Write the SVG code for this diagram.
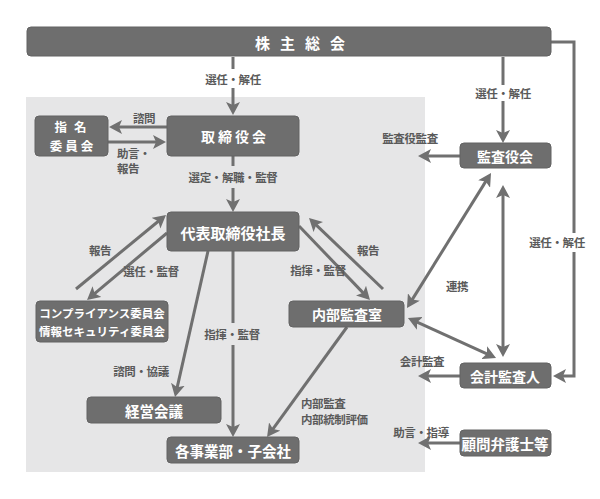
<svg xmlns="http://www.w3.org/2000/svg" width="600" height="499" viewBox="0 0 600 499">
<style>
.box{fill:#6e6e6e;stroke:#626262;stroke-width:1}
.bt{fill:#fff;font-family:"Noto Sans CJK JP","Noto Sans",sans-serif;font-weight:bold;font-size:14px;text-anchor:middle;dominant-baseline:central}
.lbl{fill:#5a5a5a;font-family:"Noto Sans CJK JP","Noto Sans",sans-serif;font-weight:bold;font-size:11.5px;text-anchor:middle;dominant-baseline:central;letter-spacing:-0.4px}
.ln{fill:none;stroke:#707070;stroke-width:3}
.ar{marker-end:url(#ah)}
.dbl{marker-start:url(#ah);marker-end:url(#ah)}
</style>
<defs>
<marker id="ah" markerUnits="userSpaceOnUse" markerWidth="14" markerHeight="14" refX="9" refY="7" orient="auto-start-reverse">
<path d="M0,0 L13,7 L0,14 L3,7 Z" fill="#707070"/>
</marker>
</defs>
<rect x="0" y="0" width="600" height="499" fill="#fff"/>
<rect id="panel" x="26" y="97" width="399" height="375" fill="#e6e6e7"/>

<g id="connectors">
<path class="ln" d="M233,57 V69"/>
<path class="ln ar" d="M233,88 V111"/>
<text class="lbl" x="233" y="79">選任・解任</text>
<path class="ln ar" d="M167,127 H113"/>
<text class="lbl" x="144" y="118">諮問</text>
<path class="ln ar" d="M108,142 H162"/>
<text class="lbl" x="117" y="153" style="text-anchor:start">助言・</text>
<text class="lbl" x="117" y="168" style="text-anchor:start">報告</text>
<path class="ln" d="M233,156 V166"/>
<path class="ln ar" d="M233,188 V208"/>
<text class="lbl" x="233" y="177">選定・解職・監督</text>
<path class="ln ar" d="M76,289 L162.9,217.5"/>
<text class="lbl" x="100" y="250">報告</text>
<path class="ln ar" d="M167,233 L90.1,297.4"/>
<text class="lbl" x="151" y="271">選任・監督</text>
<path class="ln ar" d="M208,251 L175.9,393.1"/>
<text class="lbl" x="141" y="371">諮問・協議</text>
<path class="ln" d="M233,251 V323"/>
<path class="ln ar" d="M233,345 V433"/>
<text class="lbl" x="232" y="334">指揮・監督</text>
<path class="ln ar" d="M299,226 L367.2,297.1"/>
<text class="lbl" x="318" y="270">指揮・監督</text>
<path class="ln ar" d="M383,289 L311.9,220.8"/>
<text class="lbl" x="368" y="250">報告</text>
<path class="ln ar" d="M347,327 L269.4,433.8"/>
<text class="lbl" x="301" y="403" style="text-anchor:start">内部監査</text>
<text class="lbl" x="301" y="419" style="text-anchor:start">内部統制評価</text>
<path class="ln" d="M503,57 V85"/>
<path class="ln ar" d="M503,101 V139"/>
<text class="lbl" x="503" y="93">選任・解任</text>
<path class="ln ar" d="M460,156 H422"/>
<text class="lbl" x="410" y="138">監査役監査</text>
<path class="ln" d="M551,42 H574 V233"/>
<path class="ln ar" d="M574,252 V376 H557"/>
<text class="lbl" x="557" y="242">選任・解任</text>
<path class="ln dbl" d="M488.9,176.4 L409.1,304.6"/>
<text class="lbl" x="457" y="286">連携</text>
<path class="ln dbl" d="M503,189 V353"/>
<path class="ln dbl" d="M411.6,319.7 L492.4,356.3"/>
<path class="ln ar" d="M460,376 H422"/>
<text class="lbl" x="422" y="361">会計監査</text>
<path class="ln ar" d="M460,443 H422"/>
<text class="lbl" x="421" y="432">助言・指導</text>
</g>

<g id="shareholders">
<rect class="box" x="27" y="27" width="524" height="29" rx="4"/>
<text class="bt" x="255" y="42" style="text-anchor:start;font-size:15px;letter-spacing:10px">株主総会</text>
</g>
<g id="nomination">
<rect class="box" x="35" y="116" width="73" height="40" rx="4"/>
<text class="bt" x="74" y="126.5" style="font-size:12.5px;letter-spacing:7px">指名</text>
<text class="bt" x="73" y="145.5" style="font-size:12.5px;letter-spacing:3px">委員会</text>
</g>
<g id="board">
<rect class="box" x="167" y="116" width="132" height="40" rx="4"/>
<text class="bt" x="235" y="136" style="letter-spacing:3px">取締役会</text>
</g>
<g id="president">
<rect class="box" x="167" y="212" width="132" height="39" rx="4"/>
<text class="bt" x="233" y="232" style="font-size:15px">代表取締役社長</text>
</g>
<g id="compliance">
<rect class="box" x="36" y="301" width="132" height="41" rx="4"/>
<text class="bt" x="102" y="313" style="font-size:11.5px">コンプライアンス委員会</text>
<text class="bt" x="102" y="331" style="font-size:11.5px">情報セキュリティ委員会</text>
</g>
<g id="management">
<rect class="box" x="87" y="397" width="134" height="26" rx="4"/>
<text class="bt" x="154" y="410" style="font-size:14.5px">経営会議</text>
</g>
<g id="divisions">
<rect class="box" x="167" y="437" width="132" height="26" rx="4"/>
<text class="bt" x="233" y="450" style="font-size:14.5px">各事業部・子会社</text>
</g>
<g id="internal-audit">
<rect class="box" x="289" y="301" width="115" height="26" rx="4"/>
<text class="bt" x="347" y="314">内部監査室</text>
</g>
<g id="auditors">
<rect class="box" x="460" y="143" width="91" height="25" rx="4"/>
<text class="bt" x="505" y="156">監査役会</text>
</g>
<g id="accounting-auditor">
<rect class="box" x="460" y="363" width="91" height="25" rx="4"/>
<text class="bt" x="505" y="376">会計監査人</text>
</g>
<g id="lawyers">
<rect class="box" x="460" y="430" width="91" height="26" rx="4"/>
<text class="bt" x="505" y="443" style="font-size:14.5px">顧問弁護士等</text>
</g>
</svg>
